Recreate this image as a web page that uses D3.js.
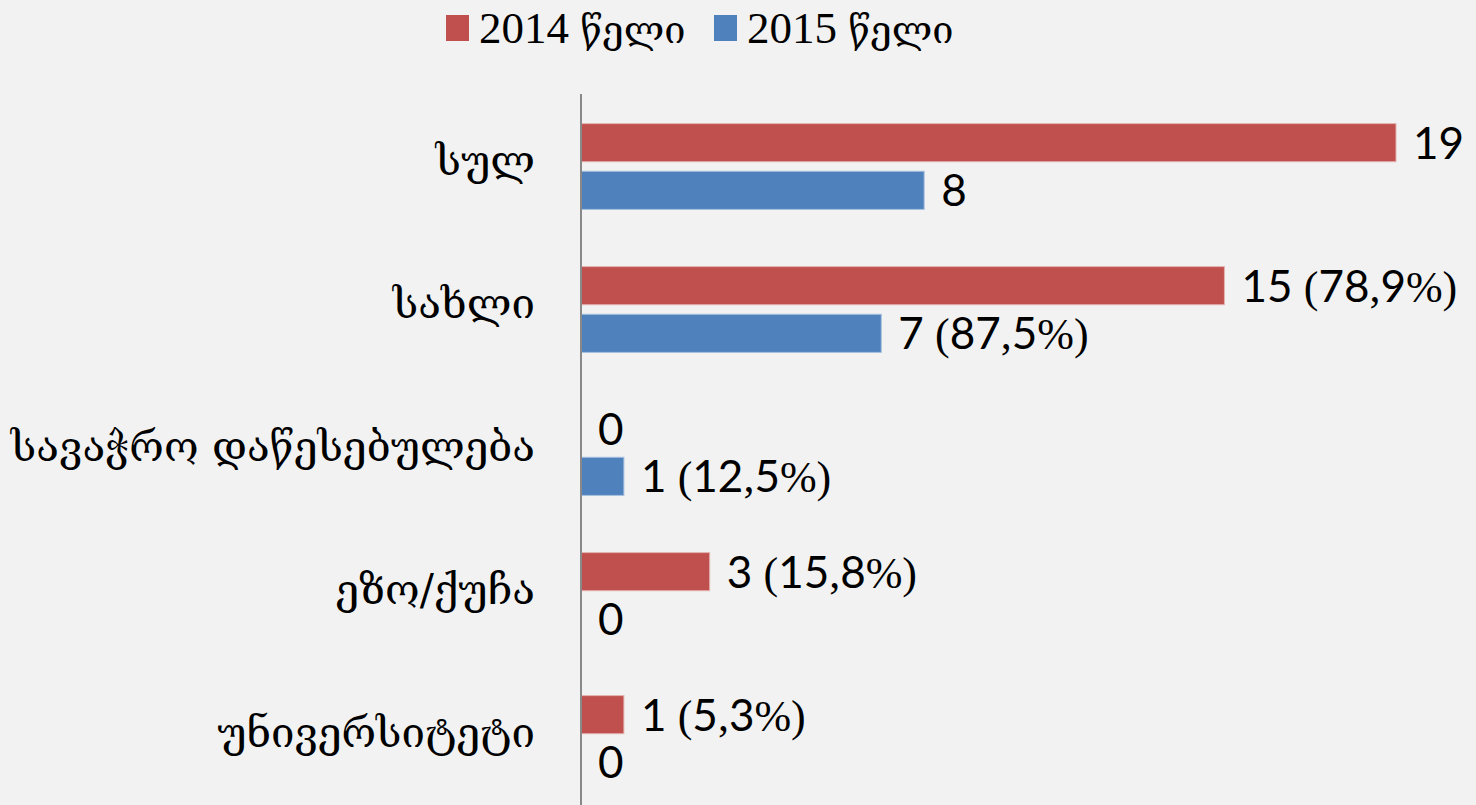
<!DOCTYPE html>
<html>
<head>
<meta charset="utf-8">
<script src="https://cdn.jsdelivr.net/npm/d3@7"></script>
<style>
  html, body { margin: 0; padding: 0; background: #f2f2f2; }
  svg { display: block; }
</style>
</head>
<body>
<script>
// data
var categories = ["სულ", "სახლი", "სავაჭრო დაწესებულება", "ეზო/ქუჩა", "უნივერსიტეტი"];
var seriesNames = ["2014 წელი", "2015 წელი"];
var values2014 = [19, 15, 0, 3, 1];
var values2015 = [8, 7, 1, 0, 0];
var labels2014 = ["19", "15 (78,9%)", "0", "3 (15,8%)", "1 (5,3%)"];
var labels2015 = ["8", "7 (87,5%)", "1 (12,5%)", "0", "0"];

var width = 1476, height = 805;
var colours = ["#c0504d", "#4f81bd"];
var strokes = ["#e3b3b1", "#a7c0de"];

var svg = d3.select("body").append("svg")
    .attr("width", width).attr("height", height);

svg.append("rect").attr("width", width).attr("height", height).attr("fill", "#f2f2f2");

var x = d3.scaleLinear().domain([0, 19]).range([581, 1396]);
var y = d3.scaleBand().domain(categories).range([95, 810]).paddingInner(0.4).paddingOuter(0.2);
var ySub = d3.scaleBand().domain([0, 1]).range([0, y.bandwidth()]).paddingInner(0.2);

var rows = categories.map(function(c, i) {
    return [
        {cat: c, s: 0, v: values2014[i], label: labels2014[i]},
        {cat: c, s: 1, v: values2015[i], label: labels2015[i]}
    ];
});

var group = svg.selectAll(".grp").data(rows).enter().append("g")
    .attr("class", "grp")
    .attr("transform", function(d) { return "translate(0," + y(d[0].cat) + ")"; });

group.selectAll("rect").data(function(d) { return d; }).enter().append("rect")
    .filter(function(d) { return d.v > 0; })
    .attr("x", x(0))
    .attr("y", function(d) { return ySub(d.s); })
    .attr("width", function(d) { return x(d.v) - x(0); })
    .attr("height", ySub.bandwidth())
    .attr("fill", function(d) { return colours[d.s]; })
    .attr("stroke", function(d) { return strokes[d.s]; })
    .attr("stroke-width", 1);

// value labels: digits in a Calibri-like face, brackets and % in serif
var lbl = group.selectAll("text.val").data(function(d) { return d; }).enter().append("text")
    .attr("class", "val")
    .attr("x", function(d) { return x(d.v) + 17; })
    .attr("y", function(d) { return ySub(d.s) + ySub.bandwidth() / 2; })
    .attr("dy", "0.36em")
    .attr("font-size", 44)
    .attr("fill", "#000");

lbl.each(function(d) {
    var t = d3.select(this);
    var parts = d.label.match(/[0-9 ]+|[^0-9 ]+/g);
    parts.forEach(function(p) {
        t.append("tspan")
            .attr("font-family", /[0-9 ]/.test(p[0]) ? "Lato, 'Open Sans', sans-serif" : "'Liberation Serif', serif")
            .text(p);
    });
});

// category labels
svg.selectAll("text.cat").data(categories).enter().append("text")
    .attr("class", "cat")
    .attr("x", 535)
    .attr("y", function(d) { return y(d) + y.bandwidth() / 2; })
    .attr("dy", "0.2em")
    .attr("text-anchor", "end")
    .attr("font-family", "'DejaVu Serif', serif")
    .attr("font-size", 42)
    .attr("fill", "#000")
    .text(function(d) { return d; });

// axis line
svg.append("line")
    .attr("x1", x(0)).attr("x2", x(0))
    .attr("y1", 94).attr("y2", height)
    .attr("stroke", "#898989").attr("stroke-width", 2);

// legend
var legendX = [446, 714];
var legend = svg.selectAll(".legend").data(seriesNames).enter().append("g")
    .attr("class", "legend")
    .attr("transform", function(d, i) { return "translate(" + legendX[i] + ",0)"; });

legend.append("rect")
    .attr("x", 0).attr("y", 15)
    .attr("width", 23).attr("height", 26)
    .attr("fill", function(d, i) { return colours[i]; });

var legText = legend.append("text")
    .attr("x", 33).attr("y", 43)
    .attr("fill", "#000");

legText.each(function(d) {
    var t = d3.select(this);
    var parts = d.split(" ");
    t.append("tspan")
        .attr("font-family", "'Liberation Serif', serif")
        .attr("font-size", 45)
        .text(parts[0] + " ");
    t.append("tspan")
        .attr("font-family", "'DejaVu Serif', serif")
        .attr("font-size", 38)
        .text(parts[1]);
});
</script>
</body>
</html>
